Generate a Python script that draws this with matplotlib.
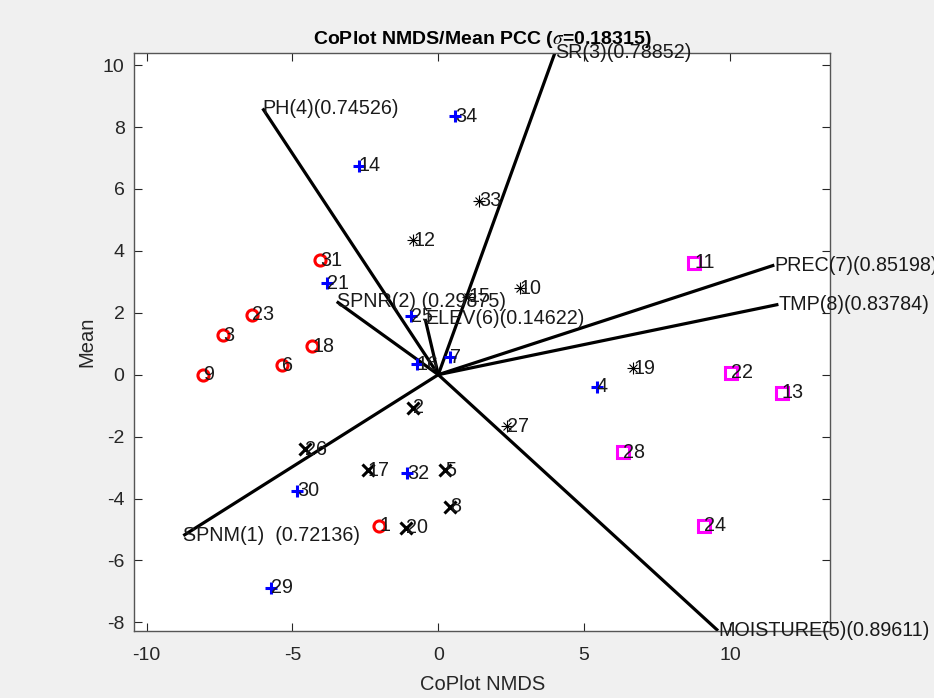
import numpy as np
import matplotlib
matplotlib.use("Agg")
import matplotlib.pyplot as plt

# CoPlot result: NMDS coordinates of the 34 sites, grouped by cluster
plt.rcParams['font.family'] = ['Liberation Sans', 'DejaVu Sans']
plt.rcParams['mathtext.fontset'] = 'stix'
plt.rcParams['axes.unicode_minus'] = False

# cluster 1 (red circles)
red_ids = [1, 3, 6, 9, 18, 23, 31]
red_x = [-2.02, -7.37, -5.35, -8.06, -4.32, -6.40, -4.05]
red_y = [-4.88, 1.27, 0.31, 0.00, 0.92, 1.94, 3.70]

# cluster 2 (blue plus)
blue_ids = [4, 7, 14, 16, 21, 25, 29, 30, 32, 34]
blue_x = [5.43, 0.40, -2.72, -0.74, -3.80, -0.95, -5.74, -4.83, -1.08, 0.57]
blue_y = [-0.39, 0.56, 6.75, 0.33, 2.95, 1.89, -6.88, -3.75, -3.19, 8.35]

# cluster 3 (black x)
cross_ids = [2, 5, 8, 17, 20, 26]
cross_x = [-0.88, 0.23, 0.40, -2.42, -1.12, -4.57]
cross_y = [-1.07, -3.08, -4.27, -3.08, -4.94, -2.41]

# cluster 4 (black asterisks)
star_ids = [10, 12, 15, 19, 27, 33]
star_x = [2.80, -0.86, 1.03, 6.69, 2.34, 1.40]
star_y = [2.79, 4.35, 2.52, 0.20, -1.66, 5.61]

# cluster 5 (magenta squares)
sq_ids = [11, 13, 22, 24, 28]
sq_x = [8.77, 11.77, 10.03, 9.12, 6.34]
sq_y = [3.61, -0.58, 0.06, -4.88, -2.51]

# variable arrows (end points) and their labels
var_names = ['SPNM(1)  (0.72136)', 'SPNR(2) (0.29875)', 'SR(3)(0.78852)',
             'PH(4)(0.74526)', 'MOISTURE(5)(0.89611)', 'ELEV(6)(0.14622)',
             'PREC(7)(0.85198)', 'TMP(8)(0.83784)']
var_x = [-8.74, -3.48, 4.00, -6.02, 9.59, -0.45, 11.52, 11.66]
var_y = [-5.20, 2.36, 10.40, 8.60, -8.27, 1.80, 3.54, 2.27]

fig = plt.figure(figsize=(9.34, 6.98), dpi=100, facecolor='#f0f0f0')
ax = fig.add_axes([0.1438, 0.0964, 0.8887 - 0.1438, 0.9245 - 0.0964])
ax.set_facecolor('white')

# arrows from the origin
for vx, vy, name in zip(var_x, var_y, var_names):
    ax.plot([0, vx], [0, vy], color='black', lw=2.3, solid_capstyle='butt', zorder=2)
    ax.text(vx, vy, name, fontsize=14.2, ha='left', va='center', color='#1a1a1a', zorder=4)

# the points
groups = [
    (red_ids, red_x, red_y, [dict(marker='o', mfc='none', mec='red', mew=2.2, ms=8)]),
    (blue_ids, blue_x, blue_y, [dict(marker='+', color='blue', mew=2.2, ms=9)]),
    (cross_ids, cross_x, cross_y, [dict(marker='x', color='black', mew=2.2, ms=8)]),
    # matlab style asterisk = plus + cross
    (star_ids, star_x, star_y, [dict(marker='+', color='black', mew=0.8, ms=8),
                                dict(marker='x', color='black', mew=0.8, ms=6)]),
    (sq_ids, sq_x, sq_y, [dict(marker='s', mfc='none', mec='magenta', mew=2.2, ms=8)]),
]
for ids, xs, ys, styles in groups:
    for style in styles:
        ax.plot(xs, ys, ls='none', zorder=3, **style)
    for i, x, y in zip(ids, xs, ys):
        ax.text(x, y, str(i), fontsize=14.2, ha='left', va='center', color='#1a1a1a', zorder=4)

ax.set_xlim(-10.42, 13.43)
ax.set_ylim(-8.27, 10.40)
ax.set_xticks([-10, -5, 0, 5, 10])
ax.set_yticks(np.arange(-8, 11, 2))
ax.tick_params(direction='in', length=6, width=0.8, top=True, right=True,
               labelsize=14, colors='#262626')
ax.tick_params(axis='x', pad=12)
ax.tick_params(axis='y', pad=7)
for sp in ax.spines.values():
    sp.set_color('#555555')
    sp.set_linewidth(1.0)

ax.set_title(r'CoPlot NMDS/Mean PCC ($\sigma$=0.18315)', fontsize=14,
             fontweight='bold', pad=6, color='black')
ax.set_xlabel('CoPlot NMDS', fontsize=14.5, color='#262626', labelpad=8)
ax.set_ylabel('Mean', fontsize=14.5, color='#262626', labelpad=5)

fig.savefig('out.png', dpi=100, facecolor=fig.get_facecolor())
